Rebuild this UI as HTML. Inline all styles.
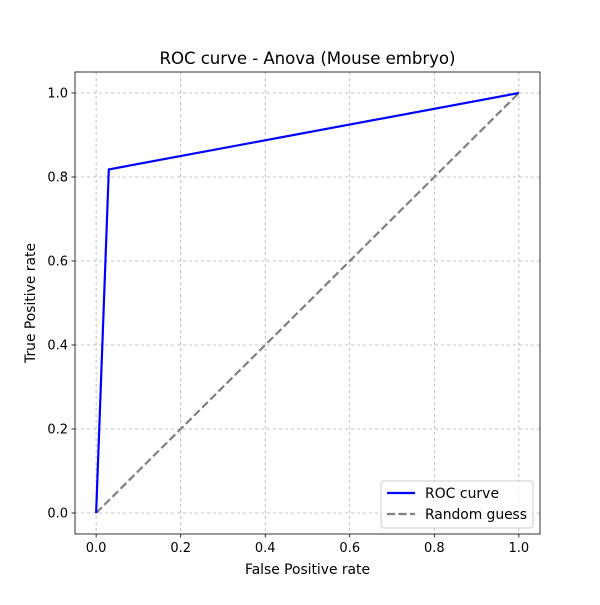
<!DOCTYPE html>
<html><head><meta charset="utf-8"><style>
body{margin:0;background:#fff;}
svg text{font-family:"DejaVu Sans","Liberation Sans",sans-serif;fill:#000;}
</style></head><body>
<svg id="chart" width="600" height="600" viewBox="0 0 600 600">
<rect width="600" height="600" fill="#fff"/>
<g id="grid"></g>
<g id="series"></g>
<rect x="75" y="72" width="465" height="462" fill="none" stroke="#000" stroke-width="0.8"/>
<g id="ticks"></g>
<text x="307.5" y="64" font-size="16.6" text-anchor="middle" textLength="296">ROC curve - Anova (Mouse embryo)</text>
<text x="307.5" y="574" font-size="13.9" text-anchor="middle" textLength="125">False Positive rate</text>
<text x="35" y="303" font-size="13.9" text-anchor="middle" textLength="120" transform="rotate(-90 35 303)">True Positive rate</text>
<g>
<rect x="381" y="481" width="152" height="47" rx="3" fill="#fff" fill-opacity="0.8" stroke="#ccc"/>
<line x1="387" y1="493" x2="415" y2="493" stroke="#0000ff" stroke-width="2.2"/>
<text x="425" y="498" font-size="13.9" textLength="74">ROC curve</text>
<line x1="387" y1="514" x2="415" y2="514" stroke="#808080" stroke-width="2.2" stroke-dasharray="8,3.5"/>
<text x="425" y="519" font-size="13.9" textLength="102">Random guess</text>
</g>
</svg>
<script>
const xTicks=[0,0.2,0.4,0.6,0.8,1.0];
const yTicks=[0,0.2,0.4,0.6,0.8,1.0];
const tickLabels=["0.0","0.2","0.4","0.6","0.8","1.0"];
const rocFpr=[0,0.03,1];
const rocTpr=[0,0.818,1];
const randFpr=[0,1];
const randTpr=[0,1];
const X=v=>75+465*(v+0.05)/1.1;
const Y=v=>534-462*(v+0.05)/1.1;
const NS="http://www.w3.org/2000/svg";
function mk(t,a,p){const e=document.createElementNS(NS,t);for(const k in a)e.setAttribute(k,a[k]);p.appendChild(e);return e;}
const g=document.getElementById('grid'),tk=document.getElementById('ticks'),s=document.getElementById('series');
xTicks.forEach((v,i)=>{
 const l=mk('line',{x1:X(v),x2:X(v),y1:72,y2:534,stroke:'#b0b0b0','stroke-width':0.8,'stroke-dasharray':'3,3'},g);
 
 
 const t=mk('line',{x1:X(v),x2:X(v),y1:534,y2:537.5,stroke:'#000','stroke-width':0.8},tk);
 
 
 const tx=mk('text',{x:X(v),y:552,'font-size':13,'text-anchor':'middle'},tk);tx.textContent=tickLabels[i];
 
 
});
yTicks.forEach((v,i)=>{
 const l=mk('line',{x1:75,x2:540,y1:Y(v),y2:Y(v),stroke:'#b0b0b0','stroke-width':0.8,'stroke-dasharray':'3,3'},g);
 
 
 const t=mk('line',{x1:71.5,x2:75,y1:Y(v),y2:Y(v),stroke:'#000','stroke-width':0.8},tk);
 
 
 const tx=mk('text',{x:68,y:Y(v)+4.5,'font-size':13,'text-anchor':'end'},tk);tx.textContent=tickLabels[i];
 
 
});
const rp=mk('polyline',{points:randFpr.map((v,i)=>X(v)+','+Y(randTpr[i])).join(' '),fill:'none',stroke:'#808080','stroke-width':2.2,'stroke-dasharray':'8,3.5'},s);


const rc=mk('polyline',{points:rocFpr.map((v,i)=>X(v)+','+Y(rocTpr[i])).join(' '),fill:'none',stroke:'#0000ff','stroke-width':2.2},s);


</script>
</body></html>
